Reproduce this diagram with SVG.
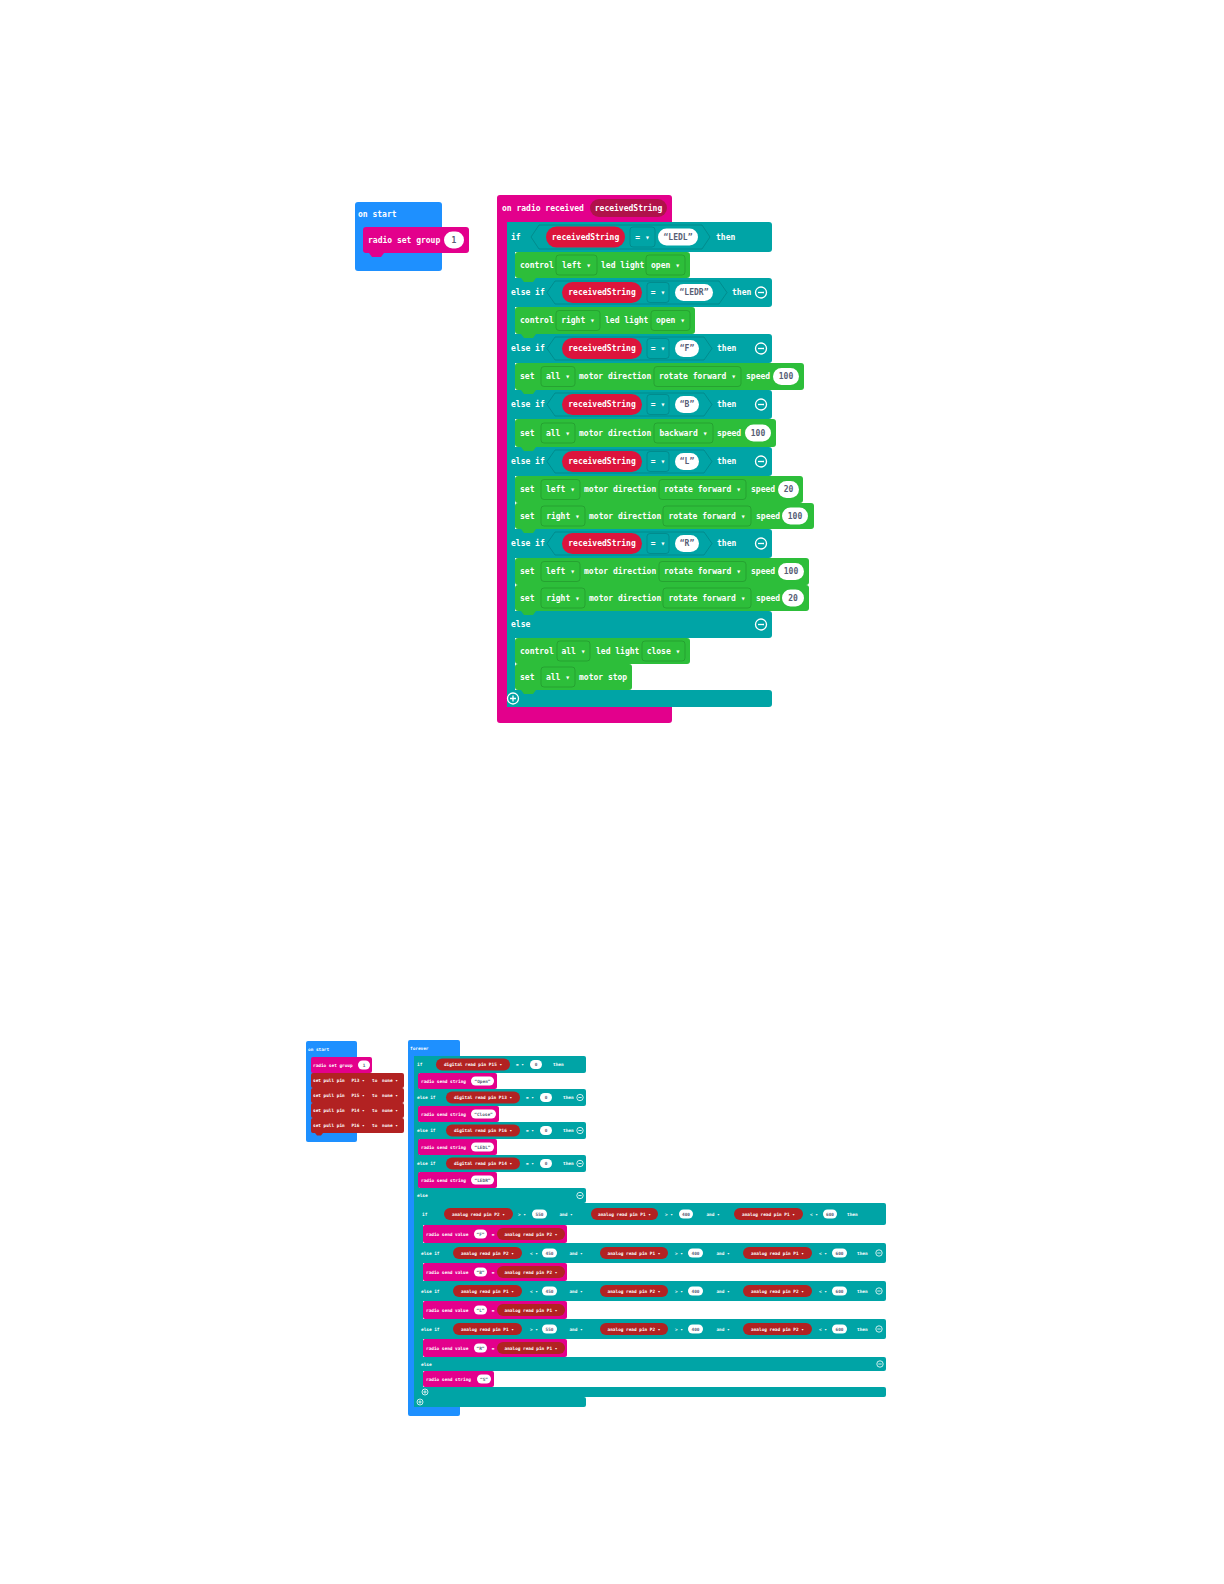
<svg xmlns="http://www.w3.org/2000/svg" width="1224" height="1584" viewBox="0 0 1224 1584">
<style>
.b{fill:#1E90FF}.m{fill:#E3008C}.tl{fill:#00A4A6}.g{fill:#2DBE3A}.v{fill:#DC143C}.vh{fill:#B0124A}.p{fill:#B22222}.w{fill:#fff}
.hx{fill:#00A4A6;stroke:rgba(0,0,0,0.15);stroke-width:1}
.f{fill:none;stroke:rgba(0,0,0,0.14);stroke-width:1}
.ic{fill:none;stroke:#fff;stroke-width:1.3}
.ics{fill:none;stroke:#fff;stroke-width:0.8}
.t{font-family:"DejaVu Sans Mono","Liberation Mono",monospace;font-size:8px;font-weight:bold;fill:#fff;dominant-baseline:central}
.s{font-size:4.4px}
.c{text-anchor:middle}
.d{fill:#575E75}
</style>
<rect width="1224" height="1584" fill="#fff"/>
<g id="connectors"></g>

<g id="on-start-top">
<rect class="b" x="355" y="202" width="87" height="69" rx="3"/>
<text class="t" x="358" y="214">on start</text>
<rect class="m" x="363" y="227" width="106" height="26" rx="3"/>
<path class="m" d="M369,253h15l-3,4h-9z"/>
<text class="t" x="368" y="240">radio set group</text>
<rect class="w" x="444" y="231.5" width="20" height="17" rx="8.5"/>
<text class="t d c" x="454" y="240">1</text>
</g>

<g id="on-radio-received">
<path class="m" d="M497,198a3,3 0 0 1 3,-3H669a3,3 0 0 1 3,3V222H507V707H672V720a3,3 0 0 1 -3,3H500a3,3 0 0 1 -3,-3Z"/>
<text class="t" x="502" y="208">on radio received</text>
<rect class="vh" x="590" y="199" width="77" height="18" rx="9"/>
<text class="t c" x="628.5" y="208">receivedString</text>

<g id="if-block">
<rect class="tl" x="507" y="222" width="8" height="485"/>
<rect class="tl" x="507" y="222" width="265" height="30" rx="3"/>
<rect class="tl" x="507" y="278" width="265" height="29" rx="3"/>
<rect class="tl" x="507" y="334" width="265" height="29" rx="3"/>
<rect class="tl" x="507" y="390" width="265" height="29" rx="3"/>
<rect class="tl" x="507" y="447" width="265" height="29" rx="3"/>
<rect class="tl" x="507" y="529" width="265" height="29" rx="3"/>
<rect class="tl" x="507" y="611" width="265" height="27" rx="3"/>
<rect class="tl" x="507" y="690" width="265" height="17" rx="3"/>

<!-- if row -->
<text class="t" x="511" y="237">if</text>
<polygon class="hx" points="531,237 539,225 702,225 710,237 702,249 539,249"/>
<rect class="v" x="546" y="226.5" width="79" height="21" rx="10.5"/>
<text class="t c" x="585.5" y="237">receivedString</text>
<rect class="f" x="630" y="227" width="25" height="20" rx="3"/>
<text class="t c" x="642.5" y="237">= ▾</text>
<rect class="w" x="658" y="228.5" width="40" height="17" rx="8.5"/>
<text class="t d c" x="678" y="237">“LEDL”</text>
<text class="t" x="716" y="237">then</text>

<!-- else if LEDR -->
<text class="t" x="511" y="292.5">else if</text>
<polygon class="hx" points="547,292.5 555,281 719,281 727,292.5 719,304 555,304"/>
<rect class="v" x="562" y="282" width="80" height="21" rx="10.5"/>
<text class="t c" x="602" y="292.5">receivedString</text>
<rect class="f" x="647" y="282.5" width="22" height="20" rx="3"/>
<text class="t c" x="658" y="292.5">= ▾</text>
<rect class="w" x="675" y="284" width="38" height="17" rx="8.5"/>
<text class="t d c" x="694" y="292.5">“LEDR”</text>
<text class="t" x="732" y="292.5">then</text>
<circle class="ic" cx="761" cy="292.5" r="5.5"/><path class="ic" d="M758,292.5h6"/>

<!-- else if F -->
<text class="t" x="511" y="348.5">else if</text>
<polygon class="hx" points="547,348.5 555,337 704,337 712,348.5 704,360 555,360"/>
<rect class="v" x="562" y="338" width="80" height="21" rx="10.5"/>
<text class="t c" x="602" y="348.5">receivedString</text>
<rect class="f" x="647" y="338.5" width="22" height="20" rx="3"/>
<text class="t c" x="658" y="348.5">= ▾</text>
<rect class="w" x="675" y="340" width="24" height="17" rx="8.5"/>
<text class="t d c" x="687" y="348.5">“F”</text>
<text class="t" x="717" y="348.5">then</text>
<circle class="ic" cx="761" cy="348.5" r="5.5"/><path class="ic" d="M758,348.5h6"/>

<!-- else if B -->
<text class="t" x="511" y="404.5">else if</text>
<polygon class="hx" points="547,404.5 555,393 704,393 712,404.5 704,416 555,416"/>
<rect class="v" x="562" y="394" width="80" height="21" rx="10.5"/>
<text class="t c" x="602" y="404.5">receivedString</text>
<rect class="f" x="647" y="394.5" width="22" height="20" rx="3"/>
<text class="t c" x="658" y="404.5">= ▾</text>
<rect class="w" x="675" y="396" width="24" height="17" rx="8.5"/>
<text class="t d c" x="687" y="404.5">“B”</text>
<text class="t" x="717" y="404.5">then</text>
<circle class="ic" cx="761" cy="404.5" r="5.5"/><path class="ic" d="M758,404.5h6"/>

<!-- else if L -->
<text class="t" x="511" y="461.5">else if</text>
<polygon class="hx" points="547,461.5 555,450 704,450 712,461.5 704,473 555,473"/>
<rect class="v" x="562" y="451" width="80" height="21" rx="10.5"/>
<text class="t c" x="602" y="461.5">receivedString</text>
<rect class="f" x="647" y="451.5" width="22" height="20" rx="3"/>
<text class="t c" x="658" y="461.5">= ▾</text>
<rect class="w" x="675" y="453" width="24" height="17" rx="8.5"/>
<text class="t d c" x="687" y="461.5">“L”</text>
<text class="t" x="717" y="461.5">then</text>
<circle class="ic" cx="761" cy="461.5" r="5.5"/><path class="ic" d="M758,461.5h6"/>

<!-- else if R -->
<text class="t" x="511" y="543.5">else if</text>
<polygon class="hx" points="547,543.5 555,532 704,532 712,543.5 704,555 555,555"/>
<rect class="v" x="562" y="533" width="80" height="21" rx="10.5"/>
<text class="t c" x="602" y="543.5">receivedString</text>
<rect class="f" x="647" y="533.5" width="22" height="20" rx="3"/>
<text class="t c" x="658" y="543.5">= ▾</text>
<rect class="w" x="675" y="535" width="24" height="17" rx="8.5"/>
<text class="t d c" x="687" y="543.5">“R”</text>
<text class="t" x="717" y="543.5">then</text>
<circle class="ic" cx="761" cy="543.5" r="5.5"/><path class="ic" d="M758,543.5h6"/>

<!-- else -->
<text class="t" x="511" y="624.5">else</text>
<circle class="ic" cx="761" cy="624.5" r="5.5"/><path class="ic" d="M758,624.5h6"/>

<!-- plus -->
<circle class="ic" cx="513" cy="698.5" r="5.5"/><path class="ic" d="M510,698.5h6M513,695.5v6"/>
</g>

<g id="green-blocks">
<rect class="g" x="515" y="252" width="175" height="26" rx="3"/>
<rect class="g" x="515" y="307" width="180" height="27" rx="3"/>
<rect class="g" x="515" y="363" width="289" height="27" rx="3"/>
<rect class="g" x="515" y="419" width="261" height="28" rx="3"/>
<rect class="g" x="515" y="476" width="288" height="27" rx="3"/>
<rect class="g" x="515" y="503" width="299" height="26" rx="3"/>
<rect class="g" x="515" y="558" width="294" height="27" rx="3"/>
<rect class="g" x="515" y="585" width="294" height="26" rx="3"/>
<rect class="g" x="515" y="638" width="175" height="26" rx="3"/>
<rect class="g" x="515" y="664" width="117" height="26" rx="3"/>
<path class="g" d="M521,278h15l-3,4h-9zM521,334h15l-3,4h-9zM521,390h15l-3,4h-9zM521,447h15l-3,4h-9zM521,529h15l-3,4h-9zM521,611h15l-3,4h-9zM521,690h15l-3,4h-9z"/>

<!-- control left led light open -->
<text class="t" x="520" y="265">control</text>
<rect class="f" x="556" y="255" width="41" height="20" rx="3"/>
<text class="t c" x="576.5" y="265">left ▾</text>
<text class="t" x="601" y="265">led light</text>
<rect class="f" x="646" y="255" width="39" height="20" rx="3"/>
<text class="t c" x="665.5" y="265">open ▾</text>

<!-- control right led light open -->
<text class="t" x="520" y="320.5">control</text>
<rect class="f" x="556" y="310.5" width="44" height="20" rx="3"/>
<text class="t c" x="578" y="320.5">right ▾</text>
<text class="t" x="605" y="320.5">led light</text>
<rect class="f" x="651" y="310.5" width="39" height="20" rx="3"/>
<text class="t c" x="670.5" y="320.5">open ▾</text>

<!-- set all motor direction rotate forward speed 100 -->
<text class="t" x="520" y="376.5">set</text>
<rect class="f" x="541" y="366.5" width="34" height="20" rx="3"/>
<text class="t c" x="558" y="376.5">all ▾</text>
<text class="t" x="579" y="376.5">motor direction</text>
<rect class="f" x="654" y="366.5" width="87" height="20" rx="3"/>
<text class="t c" x="697.5" y="376.5">rotate forward ▾</text>
<text class="t" x="746" y="376.5">speed</text>
<rect class="w" x="773" y="368" width="26" height="17" rx="8.5"/>
<text class="t d c" x="786" y="376.5">100</text>

<!-- set all motor direction backward speed 100 -->
<text class="t" x="520" y="433">set</text>
<rect class="f" x="541" y="423" width="34" height="20" rx="3"/>
<text class="t c" x="558" y="433">all ▾</text>
<text class="t" x="579" y="433">motor direction</text>
<rect class="f" x="654" y="423" width="59" height="20" rx="3"/>
<text class="t c" x="683.5" y="433">backward ▾</text>
<text class="t" x="717" y="433">speed</text>
<rect class="w" x="745" y="424.5" width="26" height="17" rx="8.5"/>
<text class="t d c" x="758" y="433">100</text>

<!-- set left ... 20 -->
<text class="t" x="520" y="489.5">set</text>
<rect class="f" x="541" y="479.5" width="39" height="20" rx="3"/>
<text class="t c" x="560.5" y="489.5">left ▾</text>
<text class="t" x="584" y="489.5">motor direction</text>
<rect class="f" x="659" y="479.5" width="87" height="20" rx="3"/>
<text class="t c" x="702.5" y="489.5">rotate forward ▾</text>
<text class="t" x="751" y="489.5">speed</text>
<rect class="w" x="778" y="481" width="21" height="17" rx="8.5"/>
<text class="t d c" x="788.5" y="489.5">20</text>

<!-- set right ... 100 -->
<text class="t" x="520" y="516">set</text>
<rect class="f" x="541" y="506" width="44" height="20" rx="3"/>
<text class="t c" x="563" y="516">right ▾</text>
<text class="t" x="589" y="516">motor direction</text>
<rect class="f" x="663" y="506" width="88" height="20" rx="3"/>
<text class="t c" x="707" y="516">rotate forward ▾</text>
<text class="t" x="756" y="516">speed</text>
<rect class="w" x="782" y="507.5" width="26" height="17" rx="8.5"/>
<text class="t d c" x="795" y="516">100</text>

<!-- set left ... 100 -->
<text class="t" x="520" y="571.5">set</text>
<rect class="f" x="541" y="561.5" width="39" height="20" rx="3"/>
<text class="t c" x="560.5" y="571.5">left ▾</text>
<text class="t" x="584" y="571.5">motor direction</text>
<rect class="f" x="659" y="561.5" width="87" height="20" rx="3"/>
<text class="t c" x="702.5" y="571.5">rotate forward ▾</text>
<text class="t" x="751" y="571.5">speed</text>
<rect class="w" x="778" y="563" width="26" height="17" rx="8.5"/>
<text class="t d c" x="791" y="571.5">100</text>

<!-- set right ... 20 -->
<text class="t" x="520" y="598">set</text>
<rect class="f" x="541" y="588" width="44" height="20" rx="3"/>
<text class="t c" x="563" y="598">right ▾</text>
<text class="t" x="589" y="598">motor direction</text>
<rect class="f" x="663" y="588" width="88" height="20" rx="3"/>
<text class="t c" x="707" y="598">rotate forward ▾</text>
<text class="t" x="756" y="598">speed</text>
<rect class="w" x="782" y="589.5" width="22" height="17" rx="8.5"/>
<text class="t d c" x="793" y="598">20</text>

<!-- control all led light close -->
<text class="t" x="520" y="651">control</text>
<rect class="f" x="557" y="641" width="33" height="20" rx="3"/>
<text class="t c" x="573.5" y="651">all ▾</text>
<text class="t" x="596" y="651">led light</text>
<rect class="f" x="642" y="641" width="43" height="20" rx="3"/>
<text class="t c" x="663.5" y="651">close ▾</text>

<!-- set all motor stop -->
<text class="t" x="520" y="677">set</text>
<rect class="f" x="541" y="667" width="34" height="20" rx="3"/>
<text class="t c" x="558" y="677">all ▾</text>
<text class="t" x="579" y="677">motor stop</text>
</g>
</g>

<g id="on-start-bottom">
<rect class="b" x="306" y="1041" width="51" height="101" rx="2"/>
<text class="t s" x="308" y="1049">on start</text>
<rect class="m" x="311" y="1057" width="61" height="16" rx="2"/>
<text class="t s" x="313" y="1065">radio set group</text>
<rect class="w" x="358" y="1060.5" width="12" height="9" rx="4.5"/>
<text class="t s d c" x="364" y="1065">1</text>
<rect class="p" x="311" y="1073" width="93" height="15" rx="2"/>
<rect class="p" x="311" y="1088" width="93" height="15" rx="2"/>
<rect class="p" x="311" y="1103" width="93" height="15" rx="2"/>
<rect class="p" x="311" y="1118" width="93" height="15" rx="2"/>
<path class="p" d="M315,1133h8l-2,2.5h-4z"/>
<text class="t s" x="313" y="1080.5">set pull pin</text><text class="t s c" x="358" y="1080.5">P13 ▾</text><text class="t s" x="372" y="1080.5">to</text><text class="t s c" x="390" y="1080.5">none ▾</text>
<text class="t s" x="313" y="1095.5">set pull pin</text><text class="t s c" x="358" y="1095.5">P15 ▾</text><text class="t s" x="372" y="1095.5">to</text><text class="t s c" x="390" y="1095.5">none ▾</text>
<text class="t s" x="313" y="1110.5">set pull pin</text><text class="t s c" x="358" y="1110.5">P14 ▾</text><text class="t s" x="372" y="1110.5">to</text><text class="t s c" x="390" y="1110.5">none ▾</text>
<text class="t s" x="313" y="1125.5">set pull pin</text><text class="t s c" x="358" y="1125.5">P16 ▾</text><text class="t s" x="372" y="1125.5">to</text><text class="t s c" x="390" y="1125.5">none ▾</text>
</g>

<g id="forever">
<path class="b" d="M408,1042a2,2 0 0 1 2,-2H458a2,2 0 0 1 2,2V1056H414V1407H460V1414a2,2 0 0 1 -2,2H410a2,2 0 0 1 -2,-2Z"/>
<text class="t s" x="410" y="1048">forever</text>

<g id="outer-if">
<rect class="tl" x="414" y="1056" width="5" height="351"/>
<rect class="tl" x="414" y="1056" width="172" height="17" rx="2"/>
<rect class="tl" x="414" y="1089" width="172" height="17" rx="2"/>
<rect class="tl" x="414" y="1122" width="172" height="17" rx="2"/>
<rect class="tl" x="414" y="1155" width="172" height="17" rx="2"/>
<rect class="tl" x="414" y="1188" width="172" height="15" rx="2"/>
<rect class="tl" x="414" y="1397" width="172" height="10" rx="2"/>

<text class="t s" x="417" y="1064.5">if</text>
<rect class="p" x="436" y="1058.5" width="74" height="12" rx="6"/>
<text class="t s c" x="473" y="1064.5">digital read pin P15 ▾</text>
<text class="t s c" x="520" y="1064.5">= ▾</text>
<rect class="w" x="530" y="1060" width="12" height="9" rx="4.5"/>
<text class="t s d c" x="536" y="1064.5">0</text>
<text class="t s" x="553" y="1064.5">then</text>

<text class="t s" x="417" y="1097.5">else if</text>
<rect class="p" x="446" y="1091.5" width="74" height="12" rx="6"/>
<text class="t s c" x="483" y="1097.5">digital read pin P13 ▾</text>
<text class="t s c" x="530" y="1097.5">= ▾</text>
<rect class="w" x="540" y="1093" width="12" height="9" rx="4.5"/>
<text class="t s d c" x="546" y="1097.5">0</text>
<text class="t s" x="563" y="1097.5">then</text>
<circle class="ics" cx="580" cy="1097.5" r="3.2"/><path class="ics" d="M578.3,1097.5h3.4"/>

<text class="t s" x="417" y="1130.5">else if</text>
<rect class="p" x="446" y="1124.5" width="74" height="12" rx="6"/>
<text class="t s c" x="483" y="1130.5">digital read pin P16 ▾</text>
<text class="t s c" x="530" y="1130.5">= ▾</text>
<rect class="w" x="540" y="1126" width="12" height="9" rx="4.5"/>
<text class="t s d c" x="546" y="1130.5">0</text>
<text class="t s" x="563" y="1130.5">then</text>
<circle class="ics" cx="580" cy="1130.5" r="3.2"/><path class="ics" d="M578.3,1130.5h3.4"/>

<text class="t s" x="417" y="1163.5">else if</text>
<rect class="p" x="446" y="1157.5" width="74" height="12" rx="6"/>
<text class="t s c" x="483" y="1163.5">digital read pin P14 ▾</text>
<text class="t s c" x="530" y="1163.5">= ▾</text>
<rect class="w" x="540" y="1159" width="12" height="9" rx="4.5"/>
<text class="t s d c" x="546" y="1163.5">0</text>
<text class="t s" x="563" y="1163.5">then</text>
<circle class="ics" cx="580" cy="1163.5" r="3.2"/><path class="ics" d="M578.3,1163.5h3.4"/>

<text class="t s" x="417" y="1195.5">else</text>
<circle class="ics" cx="580" cy="1195.5" r="3.2"/><path class="ics" d="M578.3,1195.5h3.4"/>

<circle class="ics" cx="420" cy="1402" r="3"/><path class="ics" d="M418.3,1402h3.4M420,1400.3v3.4"/>

<rect class="m" x="418" y="1073" width="79" height="16" rx="2"/>
<text class="t s" x="421" y="1081">radio send string</text>
<rect class="w" x="471" y="1076.5" width="23" height="9" rx="4.5"/>
<text class="t s d c" x="482.5" y="1081">“Open”</text>
<rect class="m" x="418" y="1106" width="81" height="16" rx="2"/>
<text class="t s" x="421" y="1114">radio send string</text>
<rect class="w" x="471" y="1109.5" width="25" height="9" rx="4.5"/>
<text class="t s d c" x="483.5" y="1114">“Close”</text>
<rect class="m" x="418" y="1139" width="79" height="16" rx="2"/>
<text class="t s" x="421" y="1147">radio send string</text>
<rect class="w" x="471" y="1142.5" width="23" height="9" rx="4.5"/>
<text class="t s d c" x="482.5" y="1147">“LEDL”</text>
<rect class="m" x="418" y="1172" width="79" height="16" rx="2"/>
<text class="t s" x="421" y="1180">radio send string</text>
<rect class="w" x="471" y="1175.5" width="23" height="9" rx="4.5"/>
<text class="t s d c" x="482.5" y="1180">“LEDR”</text>
</g>

<g id="inner-if">
<rect class="tl" x="419" y="1203" width="4" height="194"/>
<rect class="tl" x="419" y="1203" width="467" height="22" rx="2"/>
<rect class="tl" x="419" y="1243" width="467" height="20" rx="2"/>
<rect class="tl" x="419" y="1281" width="467" height="20" rx="2"/>
<rect class="tl" x="419" y="1319" width="467" height="20" rx="2"/>
<rect class="tl" x="419" y="1357" width="467" height="14" rx="2"/>
<rect class="tl" x="419" y="1387" width="467" height="10" rx="2"/>

<text class="t s" x="422" y="1214">if</text>
<rect class="p" x="444" y="1208" width="69" height="12" rx="6"/>
<text class="t s c" x="478.5" y="1214">analog read pin P2 ▾</text>
<text class="t s c" x="522" y="1214">&gt; ▾</text>
<rect class="w" x="532" y="1209.5" width="15" height="9" rx="4.5"/>
<text class="t s d c" x="539.5" y="1214">550</text>
<text class="t s c" x="566" y="1214">and ▾</text>
<rect class="p" x="591" y="1208" width="67" height="12" rx="6"/>
<text class="t s c" x="624.5" y="1214">analog read pin P1 ▾</text>
<text class="t s c" x="669" y="1214">&gt; ▾</text>
<rect class="w" x="679" y="1209.5" width="14" height="9" rx="4.5"/>
<text class="t s d c" x="686" y="1214">400</text>
<text class="t s c" x="713" y="1214">and ▾</text>
<rect class="p" x="734" y="1208" width="69" height="12" rx="6"/>
<text class="t s c" x="768.5" y="1214">analog read pin P1 ▾</text>
<text class="t s c" x="814" y="1214">&lt; ▾</text>
<rect class="w" x="823" y="1209.5" width="14" height="9" rx="4.5"/>
<text class="t s d c" x="830" y="1214">600</text>
<text class="t s" x="847" y="1214">then</text>

<text class="t s" x="421" y="1253">else if</text>
<rect class="p" x="453" y="1247" width="69" height="12" rx="6"/>
<text class="t s c" x="487.5" y="1253">analog read pin P2 ▾</text>
<text class="t s c" x="534" y="1253">&lt; ▾</text>
<rect class="w" x="542" y="1248.5" width="15" height="9" rx="4.5"/>
<text class="t s d c" x="549.5" y="1253">450</text>
<text class="t s c" x="576" y="1253">and ▾</text>
<rect class="p" x="600" y="1247" width="68" height="12" rx="6"/>
<text class="t s c" x="634" y="1253">analog read pin P1 ▾</text>
<text class="t s c" x="679" y="1253">&gt; ▾</text>
<rect class="w" x="688" y="1248.5" width="15" height="9" rx="4.5"/>
<text class="t s d c" x="695.5" y="1253">400</text>
<text class="t s c" x="723" y="1253">and ▾</text>
<rect class="p" x="743" y="1247" width="69" height="12" rx="6"/>
<text class="t s c" x="777.5" y="1253">analog read pin P1 ▾</text>
<text class="t s c" x="823" y="1253">&lt; ▾</text>
<rect class="w" x="832" y="1248.5" width="15" height="9" rx="4.5"/>
<text class="t s d c" x="839.5" y="1253">600</text>
<text class="t s" x="857" y="1253">then</text>
<circle class="ics" cx="879" cy="1253" r="3.2"/><path class="ics" d="M877.3,1253h3.4"/>

<text class="t s" x="421" y="1291">else if</text>
<rect class="p" x="453" y="1285" width="69" height="12" rx="6"/>
<text class="t s c" x="487.5" y="1291">analog read pin P1 ▾</text>
<text class="t s c" x="534" y="1291">&lt; ▾</text>
<rect class="w" x="542" y="1286.5" width="15" height="9" rx="4.5"/>
<text class="t s d c" x="549.5" y="1291">450</text>
<text class="t s c" x="576" y="1291">and ▾</text>
<rect class="p" x="600" y="1285" width="68" height="12" rx="6"/>
<text class="t s c" x="634" y="1291">analog read pin P2 ▾</text>
<text class="t s c" x="679" y="1291">&gt; ▾</text>
<rect class="w" x="688" y="1286.5" width="15" height="9" rx="4.5"/>
<text class="t s d c" x="695.5" y="1291">400</text>
<text class="t s c" x="723" y="1291">and ▾</text>
<rect class="p" x="743" y="1285" width="69" height="12" rx="6"/>
<text class="t s c" x="777.5" y="1291">analog read pin P2 ▾</text>
<text class="t s c" x="823" y="1291">&lt; ▾</text>
<rect class="w" x="832" y="1286.5" width="15" height="9" rx="4.5"/>
<text class="t s d c" x="839.5" y="1291">600</text>
<text class="t s" x="857" y="1291">then</text>
<circle class="ics" cx="879" cy="1291" r="3.2"/><path class="ics" d="M877.3,1291h3.4"/>

<text class="t s" x="421" y="1329">else if</text>
<rect class="p" x="453" y="1323" width="69" height="12" rx="6"/>
<text class="t s c" x="487.5" y="1329">analog read pin P1 ▾</text>
<text class="t s c" x="534" y="1329">&gt; ▾</text>
<rect class="w" x="542" y="1324.5" width="15" height="9" rx="4.5"/>
<text class="t s d c" x="549.5" y="1329">550</text>
<text class="t s c" x="576" y="1329">and ▾</text>
<rect class="p" x="600" y="1323" width="68" height="12" rx="6"/>
<text class="t s c" x="634" y="1329">analog read pin P2 ▾</text>
<text class="t s c" x="679" y="1329">&gt; ▾</text>
<rect class="w" x="688" y="1324.5" width="15" height="9" rx="4.5"/>
<text class="t s d c" x="695.5" y="1329">400</text>
<text class="t s c" x="723" y="1329">and ▾</text>
<rect class="p" x="743" y="1323" width="69" height="12" rx="6"/>
<text class="t s c" x="777.5" y="1329">analog read pin P2 ▾</text>
<text class="t s c" x="823" y="1329">&lt; ▾</text>
<rect class="w" x="832" y="1324.5" width="15" height="9" rx="4.5"/>
<text class="t s d c" x="839.5" y="1329">600</text>
<text class="t s" x="857" y="1329">then</text>
<circle class="ics" cx="879" cy="1329" r="3.2"/><path class="ics" d="M877.3,1329h3.4"/>

<text class="t s" x="421" y="1364">else</text>
<circle class="ics" cx="880" cy="1364" r="3.2"/><path class="ics" d="M878.3,1364h3.4"/>

<circle class="ics" cx="425" cy="1392" r="3"/><path class="ics" d="M423.3,1392h3.4M425,1390.3v3.4"/>

<rect class="m" x="423" y="1225" width="144" height="18" rx="2"/>
<text class="t s" x="426" y="1234">radio send value</text>
<rect class="w" x="474" y="1229.5" width="13" height="9" rx="4.5"/>
<text class="t s d c" x="480.5" y="1234">“F”</text>
<text class="t s c" x="493" y="1234">=</text>
<rect class="p" x="497" y="1228" width="68" height="12" rx="6"/>
<text class="t s c" x="531" y="1234">analog read pin P2 ▾</text>

<rect class="m" x="423" y="1263" width="144" height="18" rx="2"/>
<text class="t s" x="426" y="1272">radio send value</text>
<rect class="w" x="474" y="1267.5" width="13" height="9" rx="4.5"/>
<text class="t s d c" x="480.5" y="1272">“B”</text>
<text class="t s c" x="493" y="1272">=</text>
<rect class="p" x="497" y="1266" width="68" height="12" rx="6"/>
<text class="t s c" x="531" y="1272">analog read pin P2 ▾</text>

<rect class="m" x="423" y="1301" width="144" height="18" rx="2"/>
<text class="t s" x="426" y="1310">radio send value</text>
<rect class="w" x="474" y="1305.5" width="13" height="9" rx="4.5"/>
<text class="t s d c" x="480.5" y="1310">“L”</text>
<text class="t s c" x="493" y="1310">=</text>
<rect class="p" x="497" y="1304" width="68" height="12" rx="6"/>
<text class="t s c" x="531" y="1310">analog read pin P1 ▾</text>

<rect class="m" x="423" y="1339" width="144" height="18" rx="2"/>
<text class="t s" x="426" y="1348">radio send value</text>
<rect class="w" x="474" y="1343.5" width="13" height="9" rx="4.5"/>
<text class="t s d c" x="480.5" y="1348">“R”</text>
<text class="t s c" x="493" y="1348">=</text>
<rect class="p" x="497" y="1342" width="68" height="12" rx="6"/>
<text class="t s c" x="531" y="1348">analog read pin P1 ▾</text>

<rect class="m" x="423" y="1371" width="71" height="16" rx="2"/>
<text class="t s" x="426" y="1379">radio send string</text>
<rect class="w" x="477" y="1374.5" width="14" height="9" rx="4.5"/>
<text class="t s d c" x="484" y="1379">“S”</text>
</g>
</g>
</svg>
